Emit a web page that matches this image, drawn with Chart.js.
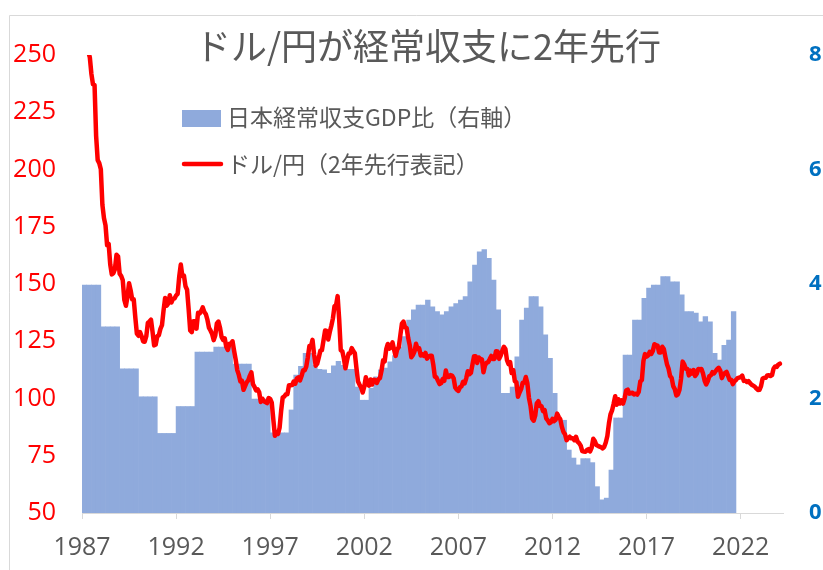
<!DOCTYPE html>
<html lang="ja">
<head>
<meta charset="utf-8">
<title>ドル/円が経常収支に2年先行</title>
<script src="https://cdn.jsdelivr.net/npm/chart.js@4/dist/chart.umd.min.js"></script>
<style>
  html, body { margin: 0; padding: 0; background: #fff; }
  canvas { display: block; }
</style>
</head>
<body>
<canvas id="myChart" width="823" height="570"></canvas>
<script>
// タイトル・凡例
const chartTitle = "ドル/円が経常収支に2年先行";
const barLabel = "日本経常収支GDP比（右軸）";
const lineLabel = "ドル/円（2年先行表記）";

// 横軸の目盛り（年）
const yearTicks = [1987, 1992, 1997, 2002, 2007, 2012, 2017, 2022];

// 経常収支GDP比（%、四半期、1987Q1から）
const barStart = 1987;
const ratioQuarterly = [
  3.98, 3.98, 3.98, 3.98,   // 1987
  3.25, 3.25, 3.25, 3.25,   // 1988
  2.52, 2.52, 2.52, 2.52,   // 1989
  2.03, 2.03, 2.03, 2.03,   // 1990
  1.39, 1.39, 1.39, 1.39,   // 1991
  1.86, 1.86, 1.86, 1.86,   // 1992
  2.81, 2.81, 2.81, 2.81,   // 1993
  2.90, 2.90, 2.90, 2.90,   // 1994
  2.60, 2.60, 2.60, 2.60,   // 1995
  1.99, 1.99, 1.99, 1.99,   // 1996
  1.40, 1.40, 1.40, 1.40,   // 1997
  1.80, 2.41, 2.56, 2.79,   // 1998
  2.79, 2.58, 2.51, 2.50,   // 1999
  2.44, 2.57, 2.65, 2.58,   // 2000
  2.51, 2.51, 2.20, 1.97,   // 2001
  1.97, 2.18, 2.38, 2.50,   // 2002
  2.53, 2.64, 2.75, 2.90,   // 2003
  3.08, 3.37, 3.55, 3.63,   // 2004
  3.63, 3.72, 3.60, 3.52,   // 2005
  3.46, 3.52, 3.60, 3.66,   // 2006
  3.72, 3.78, 4.04, 4.33,   // 2007
  4.56, 4.60, 4.45, 4.07,   // 2008
  3.55, 2.09, 2.09, 2.20,   // 2009
  2.73, 3.37, 3.58, 3.78,   // 2010
  3.78, 3.60, 3.11, 2.70,   // 2011
  2.09, 1.62, 1.62, 1.10,   // 2012
  0.96, 0.84, 0.95, 0.95,   // 2013
  0.88, 0.46, 0.23, 0.26,   // 2014
  0.75, 1.66, 1.66, 2.76,   // 2015
  2.76, 3.37, 3.37, 3.75,   // 2016
  3.93, 3.98, 3.98, 4.13,   // 2017
  4.13, 4.04, 4.04, 3.81,   // 2018
  3.52, 3.52, 3.49, 3.34,   // 2019
  3.43, 3.34, 2.79, 2.67,   // 2020
  2.93, 3.02, 3.52          // 2021
];

// ドル/円（月次、2年先行表記：1987年1月から）
const lineStart = 1987;
const usdJpy = [
  254.2, 260.5, 258.4, 251.7, 251.6, 248.9, 241.7, 237.2, 236.9, 214.7, 204.1, 202.8, // 1987
  200.1, 184.6, 178.8, 175.6, 166.9, 167.5, 158.6, 154.2, 154.7, 156.5, 162.8, 162.0, // 1988
  154.5, 153.5, 151.6, 143.0, 140.5, 144.5, 150.3, 147.3, 143.3, 143.3, 135.4, 128.3, // 1989
  127.4, 129.0, 127.2, 124.9, 124.8, 127.2, 133.1, 133.6, 134.4, 129.0, 123.2, 123.6, // 1990
  127.2, 127.6, 130.4, 132.0, 138.4, 143.9, 140.5, 141.5, 145.1, 141.9, 143.5, 143.7, // 1991
  145.0, 145.7, 153.3, 158.5, 153.5, 153.7, 149.0, 147.5, 139.0, 129.7, 129.0, 133.7, // 1992
  133.7, 130.5, 137.4, 137.1, 138.2, 139.8, 137.8, 136.8, 134.3, 130.8, 129.6, 128.1, // 1993
  125.5, 127.6, 132.8, 133.6, 130.9, 126.9, 125.6, 126.3, 122.6, 121.2, 123.9, 123.9, // 1994
  125.0, 120.8, 117.0, 112.4, 110.3, 107.4, 107.7, 103.8, 105.4, 107.0, 107.9, 109.9, // 1995
  111.4, 106.3, 105.1, 103.5, 104.0, 102.7, 98.5, 100.0, 98.8, 98.4, 98.0, 100.2,     // 1996
  99.8, 98.2, 90.8, 83.7, 85.2, 84.5, 87.2, 94.7, 100.5, 100.9, 101.9, 101.9,         // 1997
  105.8, 105.8, 105.9, 107.4, 106.5, 108.8, 109.2, 107.9, 109.8, 112.3, 112.3, 113.9, // 1998
  118.0, 122.9, 122.7, 125.6, 119.2, 114.3, 115.2, 117.9, 120.9, 121.1, 125.4, 129.7, // 1999
  129.5, 125.8, 129.0, 131.8, 135.0, 140.3, 140.7, 144.7, 134.5, 121.1, 120.6, 117.4, // 2000
  113.2, 116.7, 119.7, 119.7, 122.0, 120.7, 119.7, 113.3, 107.4, 106.0, 104.8, 102.6, // 2001
  105.2, 109.3, 106.3, 105.6, 108.3, 106.1, 108.2, 108.1, 106.8, 108.4, 108.9, 112.2, // 2002
  116.7, 116.2, 121.5, 123.8, 121.8, 122.2, 124.5, 121.3, 118.6, 121.5, 122.4, 127.6, // 2003
  132.7, 133.6, 131.1, 130.8, 126.4, 123.3, 118.0, 119.0, 120.5, 123.9, 121.6, 121.9, // 2004
  118.8, 119.3, 118.6, 119.9, 117.4, 118.3, 118.7, 118.7, 114.8, 109.5, 109.2, 107.7, // 2005
  106.3, 106.7, 108.5, 107.7, 112.2, 109.4, 109.4, 110.2, 110.0, 108.8, 104.8, 103.8, // 2006
  103.3, 104.9, 105.3, 107.3, 106.6, 108.8, 111.9, 110.6, 111.2, 114.9, 118.5, 118.5, // 2007
  115.5, 117.9, 117.3, 117.1, 111.5, 114.5, 115.6, 115.9, 117.2, 118.6, 117.3, 117.3, // 2008
  120.6, 120.5, 117.3, 118.8, 120.8, 122.6, 121.6, 116.7, 115.0, 115.9, 111.1, 112.4, // 2009
  107.6, 107.1, 100.8, 102.6, 104.1, 106.9, 106.9, 109.4, 106.6, 100.3, 96.8, 91.3,   // 2010
  90.3, 92.5, 97.9, 98.8, 96.7, 96.6, 94.5, 94.9, 91.3, 90.4, 89.2, 89.6,             // 2011
  91.1, 90.1, 90.7, 93.4, 91.9, 90.9, 87.6, 85.4, 84.4, 81.8, 82.6, 83.3,             // 2012
  82.6, 82.6, 81.8, 83.3, 81.2, 80.5, 79.4, 77.0, 76.8, 76.7, 77.5, 77.9,             // 2013
  76.9, 78.5, 82.4, 81.4, 79.7, 79.3, 79.0, 78.7, 78.2, 78.9, 80.8, 83.6,             // 2014
  89.1, 93.1, 94.8, 97.7, 101.0, 97.3, 99.7, 97.8, 99.2, 97.8, 100.1, 103.5,          // 2015
  103.9, 102.1, 102.3, 102.5, 101.8, 102.1, 101.7, 102.9, 107.4, 108.0, 116.4, 119.4, // 2016
  118.3, 118.8, 120.4, 119.5, 120.8, 123.7, 123.3, 123.1, 120.1, 120.1, 122.6, 121.6, // 2017
  118.2, 115.0, 113.1, 109.8, 109.0, 105.4, 104.1, 101.3, 101.8, 103.8, 108.6, 116.1, // 2018
  114.9, 113.0, 112.9, 110.1, 112.2, 110.9, 112.4, 109.8, 110.8, 112.9, 112.8, 112.9, // 2019
  110.9, 107.8, 106.1, 107.5, 109.7, 110.1, 111.5, 111.0, 111.9, 112.8, 113.4, 112.2, // 2020
  108.9, 110.4, 111.2, 111.6, 109.9, 108.1, 108.2, 106.3, 107.5, 108.1, 108.9, 109.1, // 2021
  109.3, 110.0, 107.7, 107.8, 107.2, 107.6, 106.7, 106.0, 105.6, 105.2, 104.4, 103.7, // 2022
  103.8, 105.4, 108.7, 109.0, 109.1, 110.1, 110.2, 109.8, 110.2, 113.1, 114.0, 113.8, // 2023
  114.8, 115.2                                                                        // 2024
];

const barPoints = ratioQuarterly.map((v, i) => ({ x: barStart + i / 4 + 0.125, y: v }));
const linePoints = usdJpy.map((v, i) => ({ x: lineStart + i / 12, y: v }));

const jpFont = '"Noto Sans CJK JP", "Noto Sans", sans-serif';
const numFont = '"Open Sans", "Noto Sans", sans-serif';

// タイトルと凡例、外枠を描く
const decorPlugin = {
  id: "decor",
  beforeDraw(chart) {
    const ctx = chart.ctx;
    ctx.save();
    ctx.fillStyle = "#ffffff";
    ctx.fillRect(0, 0, chart.width, chart.height);
    ctx.strokeStyle = "#d9d9d9";
    ctx.lineWidth = 1;
    ctx.beginPath();
    ctx.moveTo(9.5, chart.height);
    ctx.lineTo(9.5, 15.5);
    ctx.lineTo(chart.width, 15.5);
    ctx.stroke();
    ctx.restore();
  },
  afterDraw(chart) {
    const ctx = chart.ctx;
    ctx.save();
    ctx.fillStyle = "#595959";
    ctx.font = "36px " + jpFont;
    ctx.textAlign = "center";
    ctx.textBaseline = "middle";
    ctx.fillText(chartTitle, 428, 46);

    const ds = chart.data.datasets;
    ctx.font = "23px " + jpFont;
    ctx.textAlign = "left";
    // 棒の凡例
    ctx.fillStyle = ds[1].backgroundColor;
    ctx.fillRect(182, 110, 39, 17);
    ctx.fillStyle = "#595959";
    ctx.fillText(ds[1].label, 227, 117);
    // 線の凡例
    ctx.strokeStyle = ds[0].borderColor;
    ctx.lineWidth = 4.5;
    ctx.lineCap = "round";
    ctx.beginPath();
    ctx.moveTo(184, 164);
    ctx.lineTo(221, 164);
    ctx.stroke();
    ctx.fillText(ds[0].label, 227, 164);
    ctx.restore();
  }
};

const ctx = document.getElementById("myChart").getContext("2d");
new Chart(ctx, {
  type: "bar",
  data: {
    datasets: [
      {
        type: "line",
        label: lineLabel,
        data: linePoints,
        yAxisID: "y",
        borderColor: "#ff0000",
        borderWidth: 4.5,
        pointRadius: 0,
        tension: 0,
        borderJoinStyle: "round",
        borderCapStyle: "round",
        order: 0
      },
      {
        type: "bar",
        label: barLabel,
        data: barPoints,
        yAxisID: "y1",
        backgroundColor: "#8faadc",
        borderWidth: 0,
        barPercentage: 1,
        categoryPercentage: 1,
        grouped: false,
        order: 1
      }
    ]
  },
  options: {
    responsive: false,
    animation: false,
    devicePixelRatio: 1,
    layout: { padding: { top: 55, bottom: 0, left: 0, right: 0 } },
    plugins: {
      legend: { display: false },
      title: { display: false },
      tooltip: { enabled: false }
    },
    scales: {
      x: {
        type: "linear",
        min: 1987,
        max: 2024.25,
        offset: false,
        afterBuildTicks: (scale) => {
          scale.ticks = yearTicks.map(v => ({ value: v }));
        },
        afterFit: (scale) => { scale.height = 57; },
        grid: {
          offset: false,
          drawOnChartArea: false,
          drawTicks: true,
          tickLength: 6,
          color: "#d9d9d9"
        },
        border: { display: true, color: "#d9d9d9" },
        ticks: {
          padding: 14,
          maxRotation: 0,
          autoSkip: false,
          color: "#595959",
          font: { family: numFont, size: 25 },
          callback: (v) => String(v)
        }
      },
      y: {
        position: "left",
        min: 50,
        max: 250,
        afterFit: (scale) => { scale.width = 82; },
        grid: { display: false, drawTicks: false },
        border: { display: false },
        ticks: {
          stepSize: 25,
          padding: 26,
          color: "#ff0000",
          font: { family: numFont, size: 25 }
        }
      },
      y1: {
        position: "right",
        min: 0,
        max: 8,
        afterFit: (scale) => { scale.width = 40; },
        grid: { display: false, drawTicks: false },
        border: { display: false },
        ticks: {
          stepSize: 2,
          padding: 26,
          color: "#0070c0",
          font: { family: numFont, size: 22, weight: "bold" }
        }
      }
    }
  },
  plugins: [decorPlugin]
});
</script>
</body>
</html>
